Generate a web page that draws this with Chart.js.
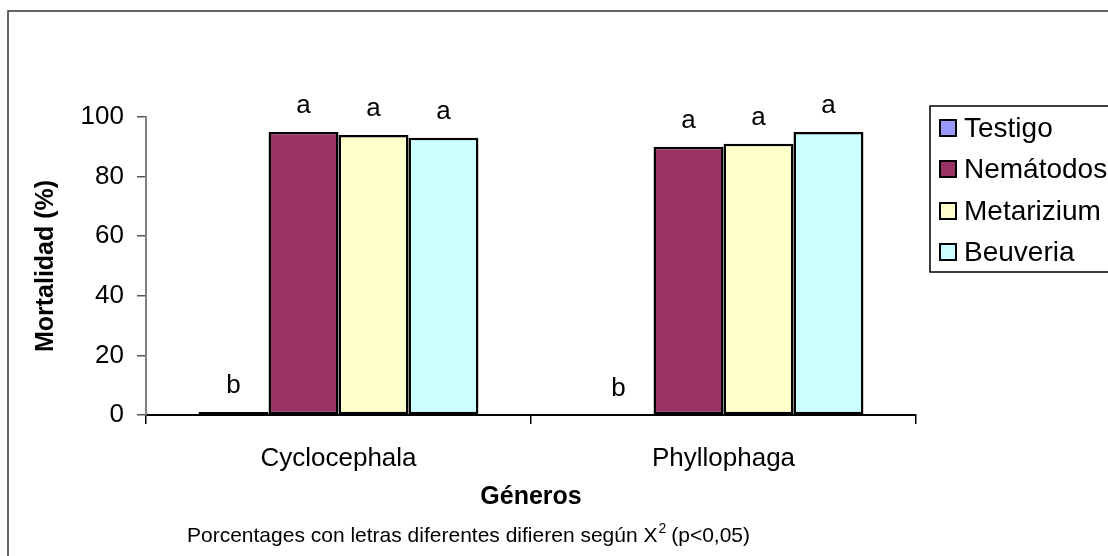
<!DOCTYPE html>
<html>
<head>
<meta charset="utf-8">
<script src="https://cdn.jsdelivr.net/npm/chart.js@4"></script>
<style>
  body { margin: 0; background: #fff; }
  #wrap { width: 1108px; height: 556px; }
</style>
</head>
<body>
<div id="wrap"><canvas id="chart" width="1108" height="556"></canvas></div>
<script>
const generos = ["Cyclocephala", "Phyllophaga"];
const series = ["Testigo", "Nemátodos", "Metarizium", "Beuveria"];
const testigo = [1, 0];
const nematodos = [95, 90];
const metarizium = [94, 91];
const beuveria = [93, 95];
const letras = [["b", "b"], ["a", "a"], ["a", "a"], ["a", "a"]];
const colores = ["#9999FF", "#993366", "#FFFFCC", "#CCFFFF"];

const FONT = "'Liberation Sans', Arial, sans-serif";

const extras = {
  id: "extras",
  beforeDraw(chart) {
    const ctx = chart.ctx;
    ctx.save();
    ctx.fillStyle = "#fff";
    ctx.fillRect(0, 0, chart.width, chart.height);
    ctx.strokeStyle = "#333";
    ctx.lineWidth = 1.5;
    ctx.strokeRect(8, 11, 1300, 700);
    ctx.restore();
  },
  afterDatasetsDraw(chart) {
    const ctx = chart.ctx;
    ctx.save();
    // letras sobre las barras
    ctx.fillStyle = "#000";
    ctx.font = "26px " + FONT;
    ctx.textAlign = "center";
    ctx.textBaseline = "alphabetic";
    chart.data.datasets.forEach((ds, i) => {
      chart.getDatasetMeta(i).data.forEach((bar, j) => {
        ctx.fillText(letras[i][j], bar.x, bar.y - 19);
      });
    });

    // leyenda
    ctx.strokeStyle = "#000";
    ctx.lineWidth = 1.5;
    ctx.strokeRect(930, 106, 300, 166);
    ctx.font = "28px " + FONT;
    const rows = [128, 169, 211, 252];
    series.forEach((s, i) => {
      ctx.fillStyle = colores[i];
      ctx.fillRect(940, rows[i] - 8, 16, 16);
      ctx.lineWidth = 2;
      ctx.strokeRect(940, rows[i] - 8, 16, 16);
      ctx.fillStyle = "#000";
      ctx.textAlign = "left";
      ctx.textBaseline = "middle";
      ctx.fillText(s, 964, rows[i] + 1);
    });

    // titulos de ejes
    ctx.font = "bold 25px " + FONT;
    ctx.textAlign = "center";
    ctx.textBaseline = "middle";
    ctx.fillText("Géneros", 531, 497);
    ctx.save();
    ctx.translate(46, 266);
    ctx.rotate(-Math.PI / 2);
    ctx.fillText("Mortalidad (%)", 0, 0);
    ctx.restore();

    // nota con superindice
    ctx.font = "21px " + FONT;
    ctx.textAlign = "left";
    ctx.textBaseline = "alphabetic";
    let x = 187;
    const base = 542;
    const t1 = "Porcentages con letras diferentes difieren según X";
    ctx.fillText(t1, x, base);
    x += ctx.measureText(t1).width;
    ctx.font = "14px " + FONT;
    ctx.fillText("2", x + 1, base - 9);
    x += ctx.measureText("2").width + 6;
    ctx.font = "21px " + FONT;
    ctx.fillText("(p<0,05)", x, base);
    ctx.restore();
  }
};

new Chart(document.getElementById("chart"), {
  type: "bar",
  data: {
    labels: generos,
    datasets: [testigo, nematodos, metarizium, beuveria].map((d, i) => ({
      label: series[i],
      data: d,
      backgroundColor: colores[i],
      borderColor: "#000",
      borderWidth: 2.5,
      borderSkipped: false,
      categoryPercentage: 0.727,
      barPercentage: 1
    }))
  },
  options: {
    responsive: false,
    animation: false,
    layout: { padding: { left: 0, top: 117, right: 192, bottom: 0 } },
    plugins: {
      legend: { display: false },
      tooltip: { enabled: false }
    },
    scales: {
      x: {
        grid: { drawOnChartArea: false, tickLength: 9, color: "#000", lineWidth: 1.5, offset: true },
        border: { color: "#000", width: 2 },
        ticks: { color: "#000", font: { family: FONT, size: 26 }, padding: 19 },
        afterFit(scale) { scale.height = 141; }
      },
      y: {
        min: 0,
        max: 100,
        grid: { drawOnChartArea: false, tickLength: 9, color: "#555", lineWidth: 1.5 },
        border: { color: "#808080", width: 2 },
        ticks: { stepSize: 20, color: "#000", font: { family: FONT, size: 26 }, padding: 13 },
        afterFit(scale) { scale.width = 146; }
      }
    }
  },
  plugins: [extras]
});
</script>
</body>
</html>
